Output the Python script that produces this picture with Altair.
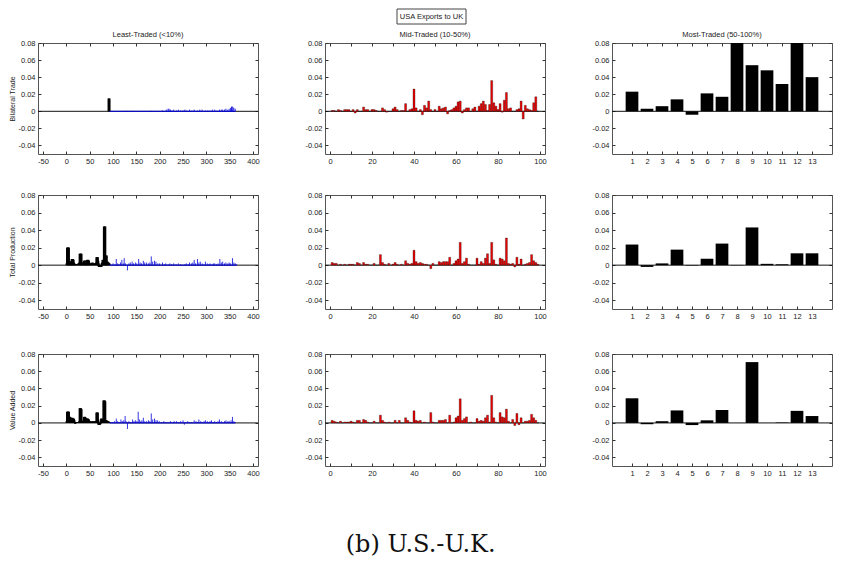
import altair as alt
import pandas as pd

FONT = "Liberation Sans"
TXT = "#222222"
FRAME = "#555555"
BLUE = "#0000dd"
RED = "#ee0000"

Y_TICKS = [-0.04, -0.02, 0.0, 0.02, 0.04, 0.06, 0.08]
Y_DOMAIN = [-0.05, 0.08]

ROW_TITLES = ["Bilateral Trade", "Total Production", "Value Added"]
COL_TITLES = ["Least-Traded (<10%)", "Mid-Traded (10-50%)", "Most-Traded (50-100%)"]
BOX_TEXT = "USA Exports to UK"
CAPTION = "(b) U.S.-U.K."

LT_XTICKS = [-50, 0, 50, 100, 150, 200, 250, 300, 350, 400]
MT_XTICKS = [0, 10, 20, 30, 40, 50, 60, 70, 80, 90, 100]
HT_XTICKS = [1, 2, 3, 4, 5, 6, 7, 8, 9, 10, 11, 12, 13]

# ---------------- Least-traded (black = first products, blue = the rest) ----------------
lt1_black_idx = [91, 92]
lt1_black_val = [0.015, 0.015]
lt1_blue_idx = [128, 141, 182, 206, 214, 218, 220, 223, 226, 230, 236, 240, 245, 250, 254, 258,
                264, 269, 274, 281, 286, 291, 298, 303, 308, 313, 318, 323, 328, 332, 335, 339,
                342, 346, 349, 352, 354, 355, 357, 359, 362]
lt1_blue_val = [0.0005, 0.0005, 0.0005, 0.001, 0.002, 0.003, 0.003, 0.002, 0.001, 0.002, 0.001,
                0.002, 0.001, 0.001, 0.002, 0.001, 0.002, 0.001, 0.002, 0.001, 0.002, 0.002, 0.001,
                0.001, 0.001, 0.002, 0.002, 0.001, 0.002, 0.002, 0.002, 0.002, 0.003, 0.002, 0.003,
                0.004, 0.005, 0.006, 0.005, 0.004, 0.003]

lt2_black_idx = [1, 2, 3, 4, 5, 6, 7, 8, 9, 10, 11, 12, 13, 14, 15, 16, 17, 18, 19, 20, 22, 24, 26,
                 28, 29, 30, 31, 32, 33, 34, 36, 38, 39, 40, 41, 42, 43, 44, 45, 46, 47, 48, 49, 50,
                 52, 54, 56, 58, 60, 62, 64, 65, 66, 67, 68, 69, 70, 71, 72, 73, 74, 75, 76, 77, 78,
                 79, 80, 81, 82, 83, 84, 85, 86, 87, 88, 89, 90, 91, 92]
lt2_black_val = [0.002, 0.020, 0.020, 0.020, 0.020, 0.005, 0.004, 0.004, 0.003, 0.004, 0.003, 0.007,
                 0.007, 0.007, 0.006, 0.003, 0.002, 0.001, 0.001, 0.001, 0.001, 0.001, 0.002, 0.003,
                 0.013, 0.013, 0.013, 0.013, 0.003, 0.002, 0.003, 0.005, 0.005, 0.005, 0.005, 0.005,
                 0.004, 0.005, 0.006, 0.006, 0.006, 0.005, 0.003, 0.002, 0.002, 0.002, 0.003, 0.002,
                 0.002, 0.002, 0.003, 0.009, 0.009, 0.009, 0.005, 0.002, -0.002, -0.002, -0.002,
                 -0.002, -0.001, -0.002, 0.002, 0.003, 0.006, 0.006, 0.003, 0.044, 0.044, 0.044,
                 0.010, 0.011, 0.011, 0.004, 0.004, 0.003, 0.003, 0.002, 0.002]
lt2_blue_idx = [95, 100, 104, 107, 110, 113, 116, 119, 122, 124, 127, 131, 134, 137, 141, 144, 148,
                151, 155, 158, 161, 165, 168, 172, 176, 179, 182, 185, 189, 192, 196, 200, 206, 210,
                213, 218, 222, 226, 230, 235, 240, 245, 250, 254, 257, 261, 264, 268, 271, 274, 277,
                281, 284, 287, 291, 295, 298, 302, 305, 308, 312, 315, 318, 322, 325, 329, 332, 335,
                339, 342, 346, 349, 352, 356, 359, 362, 365]
lt2_blue_val = [0.001, 0.002, 0.001, 0.007, 0.002, 0.001, 0.003, 0.006, 0.002, 0.008, 0.002, -0.006,
                0.002, 0.003, 0.004, 0.002, 0.003, 0.002, 0.007, 0.003, 0.002, 0.005, 0.003, 0.003,
                0.002, 0.003, 0.010, 0.004, 0.005, 0.004, 0.002, 0.002, 0.003, 0.001, 0.002, 0.001,
                0.002, 0.001, 0.002, 0.001, 0.002, 0.001, -0.001, 0.001, 0.002, 0.001, 0.003, 0.002,
                0.003, 0.006, 0.002, 0.007, 0.003, 0.004, 0.002, 0.001, 0.004, 0.002, 0.001, 0.002,
                0.001, 0.002, 0.002, 0.001, 0.002, 0.007, 0.003, 0.004, 0.002, 0.003, 0.002, 0.003,
                0.002, 0.008, 0.003, 0.002, 0.001]

lt3_black_idx = [1, 2, 3, 4, 5, 6, 7, 8, 9, 10, 11, 12, 13, 14, 15, 16, 17, 18, 19, 20, 22, 24, 26,
                 28, 29, 30, 31, 32, 33, 35, 37, 38, 39, 40, 41, 42, 43, 44, 45, 46, 47, 48, 49, 50,
                 52, 54, 56, 58, 60, 62, 64, 65, 66, 67, 68, 69, 70, 71, 72, 73, 74, 75, 76, 77, 78,
                 79, 80, 81, 82, 83, 84, 85, 86, 87, 88, 89, 90, 91, 92]
lt3_black_val = [0.002, 0.013, 0.013, 0.013, 0.013, 0.007, 0.007, 0.007, 0.006, 0.005, 0.005, 0.005,
                 0.006, 0.005, 0.004, 0.005, 0.003, 0.001, -0.001, 0.001, 0.001, 0.001, 0.001, 0.002,
                 0.017, 0.017, 0.017, 0.016, 0.002, 0.002, 0.003, 0.007, 0.007, 0.007, 0.006, 0.004,
                 0.003, 0.005, 0.005, 0.005, 0.004, 0.004, 0.002, 0.002, 0.001, 0.002, 0.002, 0.001,
                 0.002, 0.002, 0.002, 0.012, 0.012, 0.012, 0.004, -0.002, -0.002, -0.002, -0.002,
                 -0.001, 0.002, 0.005, 0.005, 0.004, 0.003, 0.002, 0.026, 0.026, 0.026, 0.025, 0.003,
                 0.003, 0.003, 0.002, 0.002, 0.001, 0.002, 0.001, 0.001]
lt3_blue_idx = [95, 99, 103, 107, 110, 113, 117, 120, 123, 126, 128, 131, 134, 138, 142, 145, 148,
                151, 154, 157, 160, 162, 165, 168, 172, 176, 179, 182, 185, 189, 192, 195, 199, 204,
                209, 213, 218, 223, 227, 231, 236, 240, 245, 250, 253, 256, 260, 264, 268, 274, 278,
                281, 284, 288, 291, 295, 298, 302, 305, 308, 311, 315, 318, 322, 325, 328, 332, 335,
                339, 342, 346, 349, 353, 356, 359, 362]
lt3_blue_val = [0.001, 0.001, 0.002, 0.005, 0.002, 0.001, 0.004, 0.002, 0.003, 0.008, 0.002, -0.007,
                0.002, 0.001, 0.004, 0.002, 0.003, 0.002, 0.013, 0.004, 0.002, 0.003, 0.006, 0.002,
                0.002, 0.003, 0.002, 0.011, 0.004, 0.005, 0.003, 0.003, 0.002, 0.001, 0.002, 0.001,
                0.001, 0.002, 0.001, 0.002, 0.002, 0.001, 0.002, 0.003, -0.002, 0.001, 0.002, 0.001,
                0.001, 0.003, 0.002, 0.001, 0.004, 0.002, 0.001, 0.002, 0.003, 0.002, 0.001, 0.002,
                0.003, 0.001, 0.002, 0.001, 0.002, 0.004, 0.002, 0.001, 0.002, 0.003, 0.002, 0.002,
                0.003, 0.007, 0.002, 0.001]

# ---------------- Mid-traded (products 1..99) ----------------
mt_idx = list(range(1, 100))
mt1_val = [0.001, 0.001, 0.000, 0.002, 0.001, 0.000, 0.002, 0.002, 0.002, 0.000,
           0.002, -0.002, 0.002, 0.000, 0.000, 0.005, 0.002, 0.002, 0.000, 0.002,
           0.002, 0.001, 0.000, 0.000, 0.004, 0.002, -0.001, 0.000, 0.000, 0.003,
           0.005, 0.002, 0.000, 0.001, 0.001, 0.009, 0.000, 0.002, 0.003, 0.026,
           0.004, 0.000, 0.002, -0.004, 0.007, 0.004, 0.012, 0.002, 0.000, 0.002,
           0.000, 0.006, 0.003, 0.004, 0.005, -0.003, 0.001, 0.002, 0.004, 0.006,
           0.011, 0.012, -0.002, 0.002, 0.004, 0.004, 0.000, 0.003, 0.005, 0.000,
           0.006, 0.009, 0.012, 0.008, 0.001, 0.008, 0.036, 0.010, 0.006, 0.002,
           0.009, -0.001, 0.013, 0.022, 0.003, 0.004, 0.000, 0.000, 0.002, 0.003,
           0.012, -0.009, 0.007, 0.003, 0.002, 0.001, 0.010, 0.017, 0.000]
mt2_val = [0.003, 0.002, 0.002, 0.000, 0.001, 0.000, 0.001, 0.000, 0.001, 0.001,
           0.001, 0.000, 0.003, 0.002, 0.000, 0.003, 0.001, 0.001, 0.000, 0.000,
           0.002, 0.000, 0.000, 0.012, 0.003, 0.001, 0.000, 0.002, 0.000, 0.001,
           0.003, 0.001, 0.000, 0.001, 0.000, 0.005, 0.002, 0.001, 0.002, 0.017,
           0.004, 0.002, 0.003, 0.002, 0.001, 0.001, 0.000, -0.004, 0.002, 0.000,
           0.000, 0.004, 0.003, 0.004, 0.004, 0.004, 0.009, 0.000, 0.002, 0.005,
           0.007, 0.026, 0.002, 0.004, 0.008, 0.001, 0.000, 0.000, 0.000, 0.008,
           0.001, 0.004, 0.002, 0.008, 0.013, 0.002, 0.026, 0.006, 0.001, 0.000,
           0.008, 0.007, 0.005, 0.031, 0.002, 0.001, 0.002, -0.002, 0.009, 0.001,
           0.007, 0.000, 0.001, 0.002, 0.003, 0.012, 0.005, 0.003, 0.001]
mt3_val = [0.003, 0.002, 0.001, 0.000, 0.002, 0.000, 0.001, 0.001, 0.001, 0.002,
           0.001, 0.000, 0.003, 0.003, 0.000, 0.004, 0.003, 0.001, 0.000, 0.000,
           0.002, 0.000, 0.000, 0.009, 0.003, 0.001, 0.000, 0.001, 0.000, 0.000,
           0.003, 0.000, 0.003, 0.000, 0.000, 0.006, 0.003, 0.001, 0.000, 0.014,
           0.003, 0.002, 0.003, 0.000, 0.001, 0.000, 0.000, 0.012, 0.001, 0.000,
           0.000, 0.003, 0.003, 0.003, 0.004, 0.000, 0.009, 0.000, 0.001, 0.006,
           0.008, 0.028, 0.003, 0.005, 0.007, 0.000, 0.001, 0.000, 0.000, 0.005,
           0.002, 0.003, 0.002, 0.006, 0.009, 0.001, 0.032, 0.006, 0.001, 0.000,
           0.012, 0.007, 0.006, 0.016, 0.002, 0.000, 0.004, -0.003, 0.011, -0.002,
           0.006, 0.000, 0.002, 0.002, 0.003, 0.010, 0.006, 0.003, 0.000]

# ---------------- Most-traded (13 products) ----------------
ht_idx = HT_XTICKS
ht1_val = [0.023, 0.003, 0.006, 0.014, -0.004, 0.021, 0.017, 0.090, 0.054, 0.048, 0.032, 0.090, 0.040]
ht2_val = [0.0235, -0.002, 0.002, 0.0177, -0.0005, 0.0073, 0.0246, -0.0005, 0.043, 0.0015, 0.001, 0.0135, 0.0135]
ht3_val = [0.0286, -0.0015, 0.002, 0.0145, -0.0025, 0.003, 0.015, 0.0, 0.0706, 0.0, 0.0005, 0.014, 0.008]

ROW_HEIGHTS = [111, 114, 112]
PANEL_W = 220

Y_EXPR = "datum.value == 0 ? '0' : replace(format(datum.value, '.2f'), '\u2212', '-')"
X_EXPR_LT = "replace(datum.label, '\u2212', '-')"
X_EXPR_MT = "datum.value % 20 == 0 ? datum.label : ''"
X_EXPR_HT = "datum.label"


def axis_common(**kw):
    base = dict(offset=-3, tickSize=3, domain=False, grid=False, tickColor="#333333",
                labelFont=FONT, labelFontSize=7.5, labelColor=TXT, labelOverlap=False,
                labelFlush=False, labelBound=False)
    base.update(kw)
    return alt.Axis(**base)


def panel(row, col, xdomain, xticks, xexpr, data_layers_fn, height):
    xs = alt.Scale(domain=xdomain, nice=False, zero=False)
    ys = alt.Scale(domain=Y_DOMAIN, nice=False, zero=False)
    bottom = axis_common(orient="bottom", values=xticks, labelPadding=3, labelExpr=xexpr, title=None)
    left_kw = dict(orient="left", values=Y_TICKS, labelPadding=3, labelExpr=Y_EXPR)
    if col == 0:
        left_kw.update(title=ROW_TITLES[row], titleFont=FONT, titleFontSize=7,
                       titleFontWeight="normal", titleColor=TXT, titlePadding=2)
    else:
        left_kw.update(title=None)
    left = axis_common(**left_kw)
    top = axis_common(orient="top", values=xticks, labels=False, title=None)
    right = axis_common(orient="right", values=Y_TICKS, labels=False, title=None)

    zero_df = pd.DataFrame({"z": [0.0]})
    zero = alt.Chart(zero_df).mark_rule(color="#111111", strokeWidth=1).encode(
        y=alt.Y("z:Q", scale=ys, axis=None))

    main_layers, ghost_df = data_layers_fn(xs, ys, bottom, left)

    ghost = alt.Chart(ghost_df).mark_point(opacity=0).encode(
        x=alt.X("i:Q", scale=xs, axis=top),
        y=alt.Y("v:Q", scale=ys, axis=right))

    layers = [zero] + main_layers + [ghost]

    if row == 0:
        box_df = pd.DataFrame({"t": [BOX_TEXT], "c": [COL_TITLES[col]]})
        box_opacity = 1 if col == 1 else 0
        box = alt.Chart(box_df).mark_rect(fill="white", stroke="#444444", strokeWidth=1,
                                          opacity=box_opacity).encode(
            x=alt.value(72), x2=alt.value(141), y=alt.value(-34), y2=alt.value(-19))
        layers.append(box)
        if col == 1:
            lab = alt.Chart(box_df).mark_text(font=FONT, fontSize=7.5, color=TXT,
                                              align="center", baseline="middle").encode(
                x=alt.value(106.5), y=alt.value(-26.5), text="t:N")
            layers.append(lab)
        coltitle = alt.Chart(box_df).mark_text(font=FONT, fontSize=7.5, color=TXT,
                                               align="center", baseline="middle").encode(
            x=alt.value(PANEL_W / 2), y=alt.value(-8.5), text="c:N")
        layers.append(coltitle)

    ch = alt.layer(*layers).resolve_axis(x="independent", y="independent")
    return ch.properties(width=PANEL_W, height=height)


def lt_layers(black_idx, black_val, blue_idx, blue_val):
    def fn(xs, ys, bottom, left):
        bdf = pd.DataFrame({"i": black_idx, "v": black_val})
        udf = pd.DataFrame({"i": blue_idx, "v": blue_val, "z": [0.0] * len(blue_idx)})
        base_df = pd.DataFrame({"x0": [black_idx[-1] + 1], "x1": [max(blue_idx)], "z": [0.0]})
        black = alt.Chart(bdf).mark_bar(orient="vertical", size=2.5, color="black").encode(
            x=alt.X("i:Q", scale=xs, axis=bottom),
            y=alt.Y("v:Q", scale=ys, axis=left))
        baseline = alt.Chart(base_df).mark_rule(color=BLUE, strokeWidth=1).encode(
            x=alt.X("x0:Q", scale=xs, axis=None), x2="x1:Q",
            y=alt.Y("z:Q", scale=ys, axis=None))
        blue = alt.Chart(udf).mark_rule(color=BLUE, strokeWidth=0.8).encode(
            x=alt.X("i:Q", scale=xs, axis=None),
            y=alt.Y("v:Q", scale=ys, axis=None), y2="z:Q")
        return [black, baseline, blue], bdf
    return fn


def mt_layers(vals):
    def fn(xs, ys, bottom, left):
        df = pd.DataFrame({"i": mt_idx, "v": vals})
        bars = alt.Chart(df).mark_bar(orient="vertical", size=2.0, color=RED, stroke="black",
                                      strokeWidth=0.3).encode(
            x=alt.X("i:Q", scale=xs, axis=bottom),
            y=alt.Y("v:Q", scale=ys, axis=left))
        return [bars], df
    return fn


def ht_layers(vals):
    def fn(xs, ys, bottom, left):
        df = pd.DataFrame({"i": ht_idx, "v": vals})
        bars = alt.Chart(df).mark_bar(orient="vertical", size=12.7, color="black", clip=True).encode(
            x=alt.X("i:Q", scale=xs, axis=bottom),
            y=alt.Y("v:Q", scale=ys, axis=left))
        return [bars], df
    return fn


lt_fns = [lt_layers(lt1_black_idx, lt1_black_val, lt1_blue_idx, lt1_blue_val),
          lt_layers(lt2_black_idx, lt2_black_val, lt2_blue_idx, lt2_blue_val),
          lt_layers(lt3_black_idx, lt3_black_val, lt3_blue_idx, lt3_blue_val)]
mt_fns = [mt_layers(mt1_val), mt_layers(mt2_val), mt_layers(mt3_val)]
ht_fns = [ht_layers(ht1_val), ht_layers(ht2_val), ht_layers(ht3_val)]

rows = []
for r in range(3):
    h = ROW_HEIGHTS[r]
    p1 = panel(r, 0, [-50, 400], LT_XTICKS, X_EXPR_LT, lt_fns[r], h)
    p2 = panel(r, 1, [0, 100], MT_XTICKS, X_EXPR_MT, mt_fns[r], h)
    p3 = panel(r, 2, [0, 14], HT_XTICKS, X_EXPR_HT, ht_fns[r], h)
    rows.append(alt.hconcat(p1, p2, p3, spacing=44))

upper = alt.vconcat(rows[0], rows[1], spacing=25)
chart = alt.vconcat(upper, rows[2], spacing=29).properties(
    padding=0,
    title=alt.TitleParams(CAPTION, orient="bottom", anchor="middle", font="DejaVu Serif",
                          fontSize=24, fontWeight="normal", color="#111111", offset=56),
).configure_view(stroke=FRAME, strokeWidth=1).configure_axis(grid=False)

chart.save("out.html", embed_options={"renderer": "svg", "actions": False})
